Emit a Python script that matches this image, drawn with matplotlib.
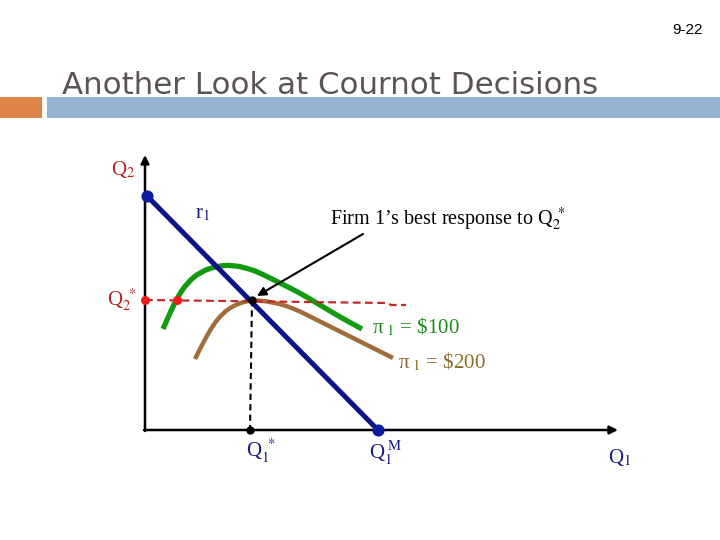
import matplotlib
matplotlib.use("Agg")
import matplotlib.pyplot as plt
from matplotlib.patches import Rectangle, PathPatch
from matplotlib.path import Path

plt.rcParams['mathtext.fontset'] = 'stix'

# ---- data (chart units: origin at the axes corner) ----
r1_x = [2, 233]
r1_y = [234, 0]

green_x = [18, 25, 32, 42, 55, 72, 88, 105, 115, 135, 155, 175, 195, 217]
green_y = [101, 117, 132, 147, 158, 164, 165, 161, 157, 147, 137, 125, 113, 101]

brown_x = [50, 58, 68, 78, 88, 98, 108, 128, 148, 168, 188, 208, 228, 248]
brown_y = [71, 87, 105, 117, 124, 128, 130, 128, 122, 112, 102, 92, 82, 72]

q2star_x = [0, 243, 246, 261]
q2star_y = [130, 127, 125, 125]

red_dots_x = [0, 32]
red_dots_y = [130, 130]

q1star = 107
q2star = 130

xaxis_end = 473
yaxis_end = 275

fig = plt.figure(figsize=(7.2, 5.4), dpi=100)
ax = fig.add_axes([0, 0, 1, 1])
ax.set_xlim(-145, 575)
ax.set_ylim(-110, 430)
ax.axis('off')


def smooth_path(xs, ys):
    pts = list(zip(xs, ys))
    verts = [pts[0]]
    codes = [Path.MOVETO]
    mid = lambda a, b: ((a[0] + b[0]) / 2, (a[1] + b[1]) / 2)
    verts.append(mid(pts[0], pts[1]))
    codes.append(Path.LINETO)
    for i in range(1, len(pts) - 1):
        verts += [pts[i], mid(pts[i], pts[i + 1])]
        codes += [Path.CURVE3, Path.CURVE3]
    verts.append(pts[-1])
    codes.append(Path.LINETO)
    return Path(verts, codes)


# header
ax.text(558, 400, '9-22', ha='right', va='center', fontsize=11,
        family='Liberation Sans', color='black')
ax.text(-83, 336, 'Another Look at Cournot Decisions', ha='left', va='baseline',
        fontsize=22.2, family='DejaVu Sans', color='#5b5452')
ax.add_patch(Rectangle((-145, 312), 42, 21, facecolor='#df8448', edgecolor='none'))
ax.add_patch(Rectangle((-98, 312), 673, 21, facecolor='#95b4d0', edgecolor='none'))

# axes arrows
ax.annotate('', xy=(0, yaxis_end), xytext=(0, -1),
            arrowprops=dict(arrowstyle='-|>', color='black', lw=1.8,
                            mutation_scale=12, shrinkA=0, shrinkB=0))
ax.annotate('', xy=(xaxis_end, 0), xytext=(-1, 0),
            arrowprops=dict(arrowstyle='-|>', color='black', lw=1.8,
                            mutation_scale=12, shrinkA=0, shrinkB=0))

# iso-profit curves
ax.add_patch(PathPatch(smooth_path(green_x, green_y), fill=False,
                       edgecolor='#129a12', lw=3.8, capstyle='butt', zorder=3))
ax.add_patch(PathPatch(smooth_path(brown_x, brown_y), fill=False,
                       edgecolor='#a06c3c', lw=3.2, capstyle='butt', zorder=3))

# Q2* dashed
ax.plot(q2star_x, q2star_y, color='#c42a2a', lw=1.6, ls=(0, (3.5, 2)), zorder=4)
ax.scatter(red_dots_x, red_dots_y, s=30, color='#ee1c1c', zorder=6)

# reaction function
ax.plot(r1_x, r1_y, color='#0c1488', lw=3.6, solid_capstyle='butt', zorder=5)
ax.scatter([r1_x[0], r1_x[1]], [r1_y[0], r1_y[1]], s=60, color='#0c1aa0', zorder=6)

# Q1* dashed vertical
ax.plot([q1star, q1star - 2], [q2star, 0], color='black', lw=1.5,
        ls=(0, (3, 2)), zorder=4)
ax.scatter([q1star - 2, q1star], [0, q2star], s=25, color='black', zorder=7)

# arrow to best response
ax.annotate('', xy=(112, 134), xytext=(218, 196),
            arrowprops=dict(arrowstyle='-|>', color='black', lw=1.5,
                            mutation_scale=13, shrinkA=0, shrinkB=0), zorder=8)

# labels
red = '#b02525'
navy = '#1a1a80'
serif = 'Liberation Serif'
ax.text(-34, 260, r'Q$_2$', color=red, fontsize=15, family=serif, ha='left', va='center')
ax.text(-38, 130, r'Q$_2^{\ *}$', color=red, fontsize=15, family=serif, ha='left', va='center')
ax.text(50, 216, r'r$_1$', color=navy, fontsize=15, family=serif, ha='left', va='center')
ax.text(185, 211, 'Firm 1\u2019s best response to Q$_2^{\\ *}$', color='black',
        fontsize=14.5, family=serif, ha='left', va='center')
ax.text(227, 103, '\u03c0$_{\\ 1}$ = \\$100', color='#1d8a1d', fontsize=15,
        family=serif, ha='left', va='center')
ax.text(253, 68, '\u03c0$_{\\ 1}$ = \\$200', color='#8a6a2a', fontsize=15,
        family=serif, ha='left', va='center')
ax.text(101, -21, r'Q$_1^{\ *}$', color=navy, fontsize=15, family=serif, ha='left', va='center')
ax.text(224, -23, r'Q$_1^{\ \mathrm{M}}$', color=navy, fontsize=15, family=serif,
        ha='left', va='center')
ax.text(463, -28, r'Q$_1$', color=navy, fontsize=15, family=serif, ha='left', va='center')

fig.savefig('out.png', dpi=100)
